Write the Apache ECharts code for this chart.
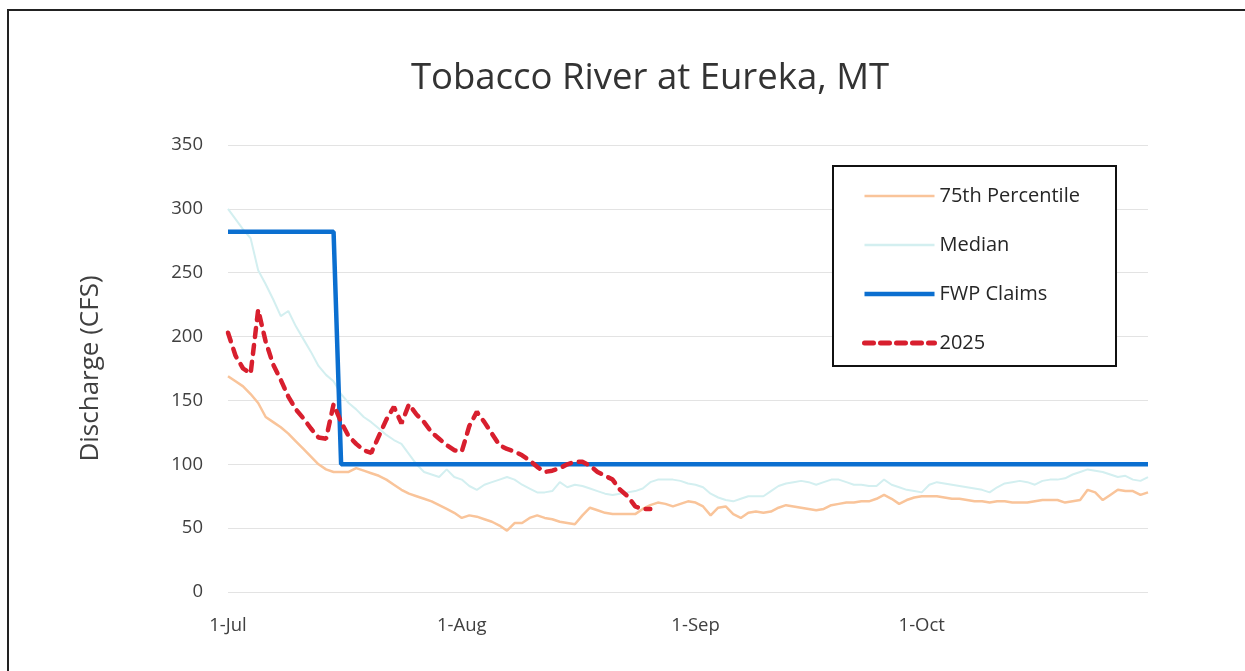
<!DOCTYPE html>
<html>
<head>
<meta charset="utf-8">
<title>Tobacco River at Eureka, MT</title>
<script src="https://cdn.jsdelivr.net/npm/echarts@6/dist/echarts.min.js"></script>
<style>
	html, body { margin: 0; padding: 0; background: #fff; }
	#chart { width: 1245px; height: 671px; }
</style>
</head>
<body>
<div id="chart"></div>
<script>
// daily axis, 1-Jul .. 31-Oct
var startDay = new Date(2025, 6, 1);
var dayCount = 123;
var monthNames = ['Jan','Feb','Mar','Apr','May','Jun','Jul','Aug','Sep','Oct','Nov','Dec'];
var tickLabels = ['1-Jul', '1-Aug', '1-Sep', '1-Oct'];

var days = [];
for (var d = 0; d < dayCount; d++) {
	var dt = new Date(startDay.getTime() + d * 86400000);
	days.push(dt.getDate() + '-' + monthNames[dt.getMonth()]);
}

// 75th percentile (orange)
var pct75 = [169,165,161,155,148,137,133,129,124,118,112,106,100,96,94,94,94,97,95,93,
	91,88,84,80,77,75,73,71,68,65,62,58,60,59,57,55,52,48,54,54,
	58,60,58,57,55,54,53,60,66,64,62,61,61,61,61,65,68,70,69,67,
	69,71,70,67,60,66,67,61,58,62,63,62,63,66,68,67,66,65,64,65,
	68,69,70,70,71,71,73,76,73,69,72,74,75,75,75,74,73,73,72,71,
	71,70,71,71,70,70,70,71,72,72,72,70,71,72,80,78,72,76,80,79,
	79,76,78];

// median (light cyan)
var median = [300,292,284,277,252,241,229,216,220,208,198,188,177,170,165,155,148,143,137,133,
	128,123,119,116,108,100,94,92,90,96,90,88,83,80,84,86,88,90,88,84,
	81,78,78,79,86,82,84,83,81,79,77,76,77,78,79,81,86,88,88,88,
	87,85,84,82,77,74,72,71,73,75,75,75,79,83,85,86,87,86,84,86,
	88,88,86,84,84,83,83,88,84,82,80,79,78,84,86,85,84,83,82,81,
	80,78,82,85,86,87,86,84,87,88,88,89,92,94,96,95,94,92,90,91,
	88,87,90];

// FWP claims, step at mid July: [day index, cfs]
var fwpClaims = [[0, 282], [14, 282], [15, 100], [122, 100]];

// 2025 observed
var flow2025 = [203,185,175,171,221,196,178,166,153,143,136,128,121,120,147,133,122,116,111,109,
	122,135,145,132,147,139,133,125,120,115,111,110,130,141,133,124,115,112,110,107,
	103,98,94,95,97,100,102,102,99,94,91,88,80,75,67,65,65];

var textFont = 'Open Sans';
var myChart = echarts.init(document.getElementById('chart'));

var option = {
	backgroundColor: '#fff',
	animation: false,
	title: {
		text: 'Tobacco River at Eureka, MT',
		left: 645,
		textAlign: 'center',
		top: 55,
		textStyle: {
			fontFamily: textFont,
			fontWeight: 'normal',
			fontSize: 36.5,
			color: '#333'
		}
	},
	graphic: [
		{
			// outer frame
			type: 'rect',
			shape: { x: 8, y: 10, width: 1250, height: 680 },
			style: { fill: 'none', stroke: '#222', lineWidth: 2 },
			silent: true
		},
		{
			// legend frame
			type: 'rect',
			shape: { x: 833, y: 166, width: 283, height: 200 },
			style: { fill: '#fff', stroke: '#111', lineWidth: 2 },
			z: 50,
			silent: true
		}
	],
	legend: {
		orient: 'vertical',
		left: 857,
		top: 181,
		z: 60,
		itemWidth: 70,
		itemHeight: 14,
		itemGap: 29,
		itemStyle: { opacity: 0 },
		textStyle: {
			fontFamily: textFont,
			fontSize: 20,
			color: '#262626'
		},
		data: [
			{ name: '75th Percentile', lineStyle: { width: 2.5 } },
			{ name: 'Median', lineStyle: { width: 2.5 } },
			{ name: 'FWP Claims', lineStyle: { width: 4.5 } },
			{ name: '2025', lineStyle: { width: 5, type: [9, 7], cap: 'round' } }
		]
	},
	grid: {
		left: 228,
		right: 97,
		top: 145,
		bottom: 79
	},
	xAxis: {
		type: 'category',
		boundaryGap: false,
		data: days,
		axisLine: { show: false },
		axisTick: { show: false },
		axisLabel: {
			margin: 24,
			fontFamily: textFont,
			fontSize: 18.5,
			color: '#404040',
			interval: function(index, value){
				return tickLabels.indexOf(value) >= 0;
			}
		},
		splitLine: { show: false }
	},
	yAxis: {
		type: 'value',
		min: 0,
		max: 350,
		interval: 50,
		name: 'Discharge (CFS)',
		nameLocation: 'middle',
		nameGap: 124,
		nameTextStyle: {
			fontFamily: textFont,
			fontSize: 26,
			color: '#404040'
		},
		axisLine: { show: false },
		axisTick: { show: false },
		axisLabel: {
			margin: 25,
			fontFamily: textFont,
			fontSize: 18.5,
			color: '#404040'
		},
		splitLine: {
			lineStyle: { color: '#e3e3e3', width: 1 }
		}
	},
	series: [
		{
			name: '75th Percentile',
			type: 'line',
			data: pct75,
			symbol: 'none',
			lineStyle: { color: '#f9c49a', width: 2.5 },
			itemStyle: { color: '#f9c49a' },
			z: 2
		},
		{
			name: 'Median',
			type: 'line',
			data: median,
			symbol: 'none',
			lineStyle: { color: '#d3eff0', width: 2 },
			itemStyle: { color: '#d3eff0' },
			z: 2
		},
		{
			name: 'FWP Claims',
			type: 'line',
			data: fwpClaims,
			symbol: 'none',
			lineStyle: { color: '#0b6fd0', width: 4.5 },
			itemStyle: { color: '#0b6fd0' },
			z: 3
		},
		{
			name: '2025',
			type: 'line',
			data: flow2025,
			symbol: 'none',
			lineStyle: { color: '#d81f2e', width: 4.5, type: [9, 8], cap: 'round' },
			itemStyle: { color: '#d81f2e' },
			z: 4
		}
	]
};

myChart.setOption(option);
</script>
</body>
</html>
